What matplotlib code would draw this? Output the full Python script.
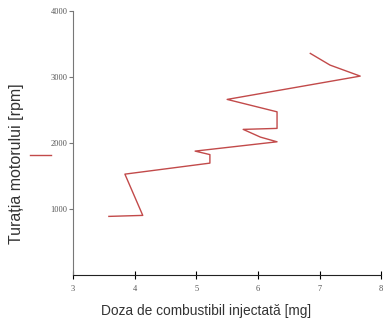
import matplotlib
matplotlib.use("Agg")
import matplotlib.pyplot as plt
from matplotlib.lines import Line2D

# date
doza = [3.58, 4.13, 3.84, 5.22, 5.22, 4.98, 6.31, 6.04, 5.76, 6.31, 6.31, 5.50, 7.66, 7.17, 6.85]
turatie = [890, 905, 1530, 1697, 1826, 1879, 2020, 2091, 2208, 2223, 2474, 2662, 3015, 3182, 3359]
xticks = [3, 4, 5, 6, 7, 8]
yticks = [1000, 2000, 3000, 4000]

fig = plt.figure(figsize=(3.85, 3.26), dpi=100)
ax = fig.add_axes([0.19, 0.156, 0.80, 0.81])

ax.plot(doza, turatie, color="#c24a4a", lw=1)

ax.set_xlim(3, 8)
ax.set_ylim(0, 4000)
ax.set_xticks(xticks)
ax.set_yticks(yticks)
ax.set_xticklabels([str(v) for v in xticks])
ax.set_yticklabels([str(v) for v in yticks])

for s in ["top", "right"]:
    ax.spines[s].set_visible(False)
ax.spines["left"].set_color("#777777")
ax.spines["bottom"].set_color("#222222")
ax.tick_params(axis="x", direction="inout", length=6, width=0.8, pad=4,
               labelsize=6, labelcolor="#555555")
ax.tick_params(axis="y", direction="out", length=3, width=0.8, pad=1,
               labelsize=6, labelcolor="#555555", color="#777777")
for lbl in ax.get_xticklabels() + ax.get_yticklabels():
    lbl.set_family("Liberation Serif")

fig.text(0.535, 0.045, "Doza de combustibil injectată [mg]", ha="center", va="center",
         fontsize=9.9, family="Liberation Sans", color="#333333")
fig.text(0.044, 0.498, "Turația motorului [rpm]", ha="center", va="center", rotation=90,
         fontsize=11.5, family="Liberation Sans", color="#333333")

# mica liniuta rosie din stanga (legenda)
fig.add_artist(Line2D([30 / 385, 51 / 385], [1 - 155 / 326, 1 - 155 / 326],
                      color="#c24a4a", lw=1, transform=fig.transFigure))

fig.savefig("out.png", dpi=100)
